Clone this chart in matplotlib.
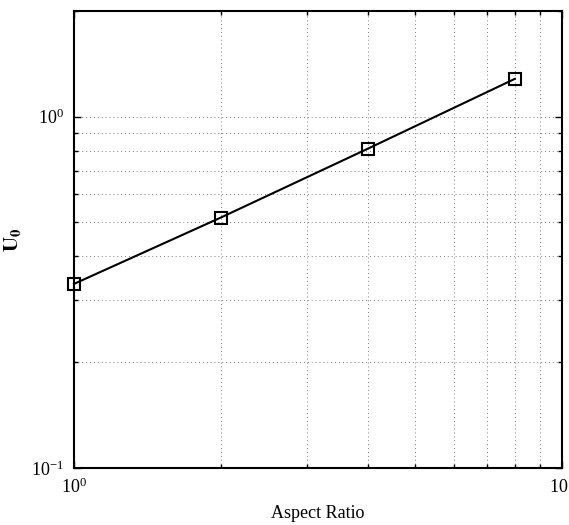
import matplotlib
matplotlib.use("Agg")
import matplotlib.pyplot as plt
from matplotlib.ticker import LogLocator, NullFormatter

aspect_ratio = [1, 2, 4, 8]
u0 = [0.334, 0.516, 0.81, 1.28]

plt.rcParams["font.family"] = ["Liberation Serif", "DejaVu Serif"]
plt.rcParams["mathtext.fontset"] = "stix"

fig = plt.figure(figsize=(5.69, 5.25), dpi=100)
ax = fig.add_axes([0.130, 0.1086, 0.858, 0.871])

ax.plot(aspect_ratio, u0, color="black", lw=1.5, marker="s", ms=9,
        mfc="none", mec="black", mew=1.5, clip_on=False, zorder=3)
ax.set_xscale("log")
ax.set_yscale("log")
ax.set_xlim(1, 10)
ax.set_ylim(0.1, 2)

ax.xaxis.set_major_locator(LogLocator(base=10, numticks=5))
ax.xaxis.set_minor_locator(LogLocator(base=10, subs=range(2, 10), numticks=20))
ax.yaxis.set_minor_locator(LogLocator(base=10, subs=range(2, 10), numticks=20))
ax.xaxis.set_minor_formatter(NullFormatter())
ax.yaxis.set_minor_formatter(NullFormatter())

ax.grid(True, which="both", ls=(0, (1, 3)), color="0.5", lw=0.7)
ax.tick_params(which="both", direction="in", top=True, right=True,
               labelsize=13, width=1)
ax.tick_params(axis="x", pad=7)
ax.tick_params(axis="y", pad=7)
ax.tick_params(which="major", length=5)
ax.tick_params(which="minor", length=3)
for s in ax.spines.values():
    s.set_linewidth(1.5)

ax.set_xlabel("Aspect Ratio", fontsize=13, labelpad=6)
ax.set_ylabel(r"$\mathbf{U_0}$", fontsize=15, labelpad=6)

fig.savefig("out.png", dpi=100)
